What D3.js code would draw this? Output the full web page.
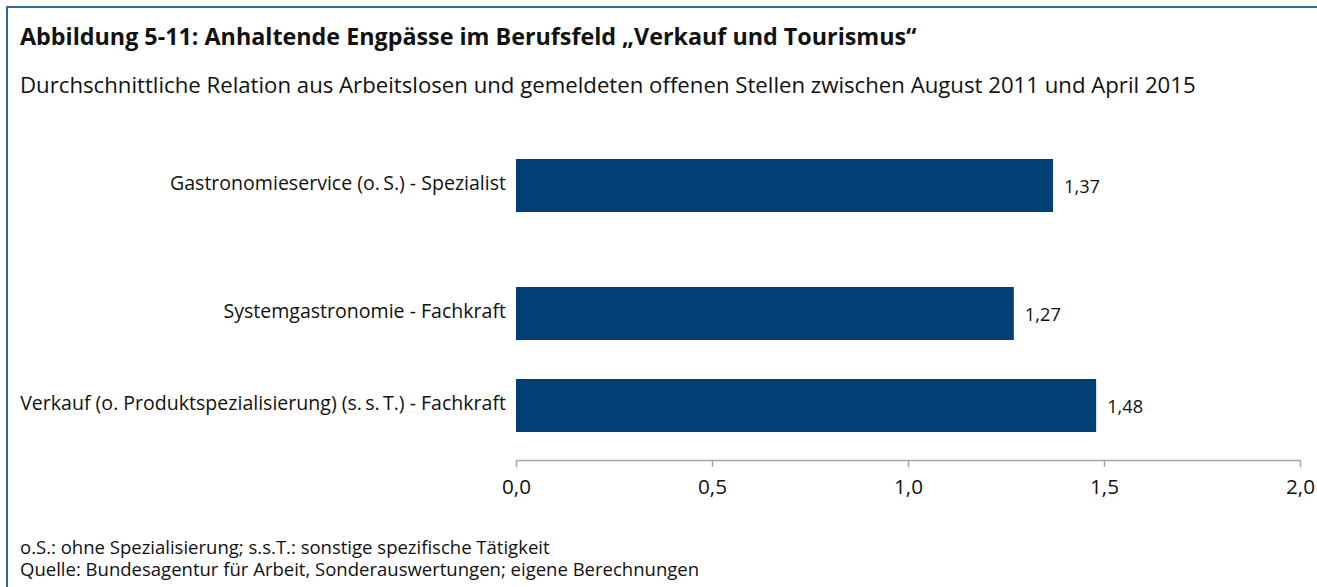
<!DOCTYPE html>
<html>
<head>
<meta charset="utf-8">
<script src="https://cdn.jsdelivr.net/npm/d3@7"></script>
<style>
  body { margin: 0; background: #fff; }
  svg { display: block; font-family: "Open Sans", "Noto Sans", sans-serif; }
</style>
</head>
<body>
<div id="chart"></div>
<script>
// Daten
var categories = [
  "Gastronomieservice (o.\u2009S.) - Spezialist",
  "Systemgastronomie - Fachkraft",
  "Verkauf (o. Produktspezialisierung) (s.\u2009s.\u2009T.) - Fachkraft"
];
var values = [1.37, 1.27, 1.48];
var tickValues = [0, 0.5, 1.0, 1.5, 2.0];

var titleText = "Abbildung 5-11: Anhaltende Engpässe im Berufsfeld „Verkauf und Tourismus“";
var subtitleText = "Durchschnittliche Relation aus Arbeitslosen und gemeldeten offenen Stellen zwischen August 2011 und April 2015";
var notes = [
  "o.S.: ohne Spezialisierung; s.s.T.: sonstige spezifische Tätigkeit",
  "Quelle: Bundesagentur für Arbeit, Sonderauswertungen; eigene Berechnungen"
];

var W = 1317, H = 587;
var barColor = "#004077";

var svg = d3.select("#chart").append("svg")
  .attr("width", W)
  .attr("height", H);

// Rahmen (oben und links)
svg.append("path")
  .attr("d", "M7," + H + "V7H" + W)
  .attr("fill", "none")
  .attr("stroke", "#2f6a9c")
  .attr("stroke-width", 2);

// Schriftgroesse so setzen, dass der Text die Zielbreite hat
function fitWidth(sel, target) {
  var fs = parseFloat(sel.style("font-size"));
  var w = sel.node().getComputedTextLength();
  var nfs = (fs * target / w).toFixed(2) + "px";
  sel.style("font-size", nfs);
  return nfs;
}

var title = svg.append("text")
  .attr("x", 20).attr("y", 45)
  .style("font-size", "19px")
  .style("font-weight", "bold")
  .attr("fill", "#111")
  .text(titleText);
fitWidth(title, 897);

var subtitle = svg.append("text")
  .attr("x", 20).attr("y", 93)
  .style("font-size", "18px")
  .attr("fill", "#111")
  .text(subtitleText);
fitWidth(subtitle, 1176);

// Skalen
var x = d3.scaleLinear()
  .domain([0, 2])
  .range([516, 1300]);

// ungleichmaessige Abstaende wie im Original
var y = d3.scaleOrdinal()
  .domain(categories)
  .range([185.5, 313.5, 405.5]);

var barHeight = 53;

var g = svg.append("g");

g.selectAll("rect.bar")
  .data(values)
  .enter().append("rect")
  .attr("class", "bar")
  .attr("x", x(0))
  .attr("y", function(d, i) { return y(categories[i]) - barHeight / 2; })
  .attr("width", function(d) { return x(d) - x(0); })
  .attr("height", barHeight)
  .attr("fill", barColor);

// Werte
var vals = g.selectAll("text.value")
  .data(values)
  .enter().append("text")
  .attr("class", "value")
  .attr("x", function(d) { return x(d) + 11; })
  .attr("y", function(d, i) { return y(categories[i]) + 7; })
  .style("font-size", "18px")
  .attr("fill", "#111")
  .text(function(d) { return d.toFixed(2).replace(".", ","); });
vals.style("font-size", fitWidth(d3.select(vals.nodes()[0]), 36));

// Kategorien
var cats = g.selectAll("text.cat")
  .data(categories)
  .enter().append("text")
  .attr("class", "cat")
  .attr("x", 506)
  .attr("y", function(d) { return y(d) + 4; })
  .attr("text-anchor", "end")
  .style("font-size", "17px")
  .attr("fill", "#111")
  .text(function(d) { return d; });
cats.style("font-size", fitWidth(d3.select(cats.nodes()[2]), 486));

// X-Achse
var xAxis = d3.axisBottom(x)
  .tickValues(tickValues)
  .tickSizeInner(7)
  .tickSizeOuter(0)
  .tickPadding(12)
  .tickFormat(function(d) { return d.toFixed(1).replace(".", ","); });

var ax = svg.append("g")
  .attr("transform", "translate(0,460)")
  .call(xAxis);
ax.select(".domain").attr("stroke", "#a6a6a6").attr("stroke-width", 1.5);
ax.selectAll(".tick line").attr("stroke", "#a6a6a6").attr("stroke-width", 1.5);
var tl = ax.selectAll(".tick text")
  .attr("fill", "#111")
  .style("font-size", "18px")
  .style("font-family", "\"Open Sans\", sans-serif");
tl.style("font-size", fitWidth(d3.select(tl.nodes()[0]), 29));

// Fussnoten
var foot = svg.selectAll("text.note")
  .data(notes)
  .enter().append("text")
  .attr("class", "note")
  .attr("x", 20)
  .attr("y", function(d, i) { return 554 + i * 22; })
  .style("font-size", "15px")
  .attr("fill", "#111")
  .text(function(d) { return d; });
foot.style("font-size", fitWidth(d3.select(foot.nodes()[0]), 530));
</script>
</body>
</html>
